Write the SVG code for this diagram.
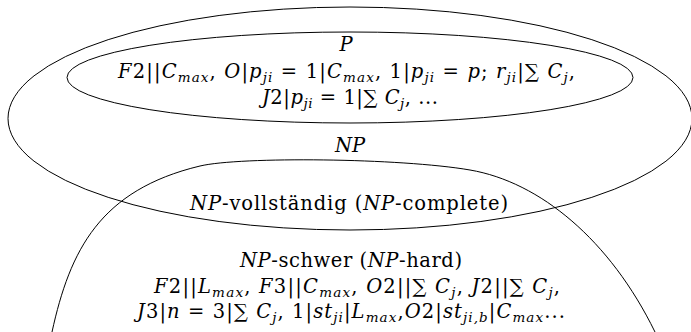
<svg xmlns="http://www.w3.org/2000/svg" width="691" height="332" viewBox="0 0 691 332">
<style>
.bg{fill:#fff}
.ln{fill:none;stroke:#000;stroke-width:1}
.t{font-family:"DejaVu Serif","Liberation Serif",serif;font-size:19.5px;fill:#000}
.i{font-style:italic}
.s{font-size:13.5px;font-style:italic}
</style>
<rect class="bg" x="0" y="0" width="691" height="332"/>
<g id="connectors">
</g>
<g id="np">
<ellipse class="ln" cx="350" cy="118.5" rx="342" ry="111.5"/>
<text class="t i" x="350" y="152" text-anchor="middle">NP</text>
</g>
<g id="p">
<ellipse class="ln" cx="350" cy="77.5" rx="283" ry="45.5"/>
<text class="t i" x="346" y="51" text-anchor="middle">P</text>
<text class="t" x="346.5" y="78" text-anchor="middle" textLength="457" lengthAdjust="spacing"><tspan class="i">F</tspan>2||<tspan class="i">C</tspan><tspan class="s" dy="4">max</tspan><tspan dy="-4">, </tspan><tspan class="i">O</tspan>|<tspan class="i">p</tspan><tspan class="s" dy="4">ji</tspan><tspan dy="-4"> = 1|</tspan><tspan class="i">C</tspan><tspan class="s" dy="4">max</tspan><tspan dy="-4">, 1|</tspan><tspan class="i">p</tspan><tspan class="s" dy="4">ji</tspan><tspan dy="-4"> = </tspan><tspan class="i">p</tspan>; <tspan class="i">r</tspan><tspan class="s" dy="4">ji</tspan><tspan dy="-4">|∑ </tspan><tspan class="i">C</tspan><tspan class="s" dy="4">j</tspan><tspan dy="-4">,</tspan></text>
<text class="t" x="350" y="104" text-anchor="middle" textLength="176" lengthAdjust="spacing"><tspan class="i">J</tspan>2|<tspan class="i">p</tspan><tspan class="s" dy="4">ji</tspan><tspan dy="-4"> = 1|∑ </tspan><tspan class="i">C</tspan><tspan class="s" dy="4">j</tspan><tspan dy="-4">, ...</tspan></text>
</g>
<g id="np-hard">
<path class="ln" d="M52,332 C70,250 100,190 200,166 C240,156.5 400,158 470,170 C540,182 610,240 655,332"/>
<text class="t" x="349" y="210" text-anchor="middle" textLength="318" lengthAdjust="spacing"><tspan class="i">NP</tspan>-vollständig (<tspan class="i">NP</tspan>-complete)</text>
<text class="t" x="351" y="267" text-anchor="middle" textLength="222" lengthAdjust="spacing"><tspan class="i">NP</tspan>-schwer (<tspan class="i">NP</tspan>-hard)</text>
<text class="t" x="357" y="293" text-anchor="middle" textLength="406" lengthAdjust="spacing"><tspan class="i">F</tspan>2||<tspan class="i">L</tspan><tspan class="s" dy="4">max</tspan><tspan dy="-4">, </tspan><tspan class="i">F</tspan>3||<tspan class="i">C</tspan><tspan class="s" dy="4">max</tspan><tspan dy="-4">, </tspan><tspan class="i">O</tspan>2||∑ <tspan class="i">C</tspan><tspan class="s" dy="4">j</tspan><tspan dy="-4">, </tspan><tspan class="i">J</tspan>2||∑ <tspan class="i">C</tspan><tspan class="s" dy="4">j</tspan><tspan dy="-4">,</tspan></text>
<text class="t" x="351" y="318" text-anchor="middle" textLength="428" lengthAdjust="spacing"><tspan class="i">J</tspan>3|<tspan class="i">n</tspan> = 3|∑ <tspan class="i">C</tspan><tspan class="s" dy="4">j</tspan><tspan dy="-4">, 1|</tspan><tspan class="i">st</tspan><tspan class="s" dy="4">ji</tspan><tspan dy="-4">|</tspan><tspan class="i">L</tspan><tspan class="s" dy="4">max</tspan><tspan dy="-4">,</tspan><tspan class="i">O</tspan>2|<tspan class="i">st</tspan><tspan class="s" dy="4">ji,b</tspan><tspan dy="-4">|</tspan><tspan class="i">C</tspan><tspan class="s" dy="4">max</tspan><tspan dy="-4">...</tspan></text>
</g>
</svg>
